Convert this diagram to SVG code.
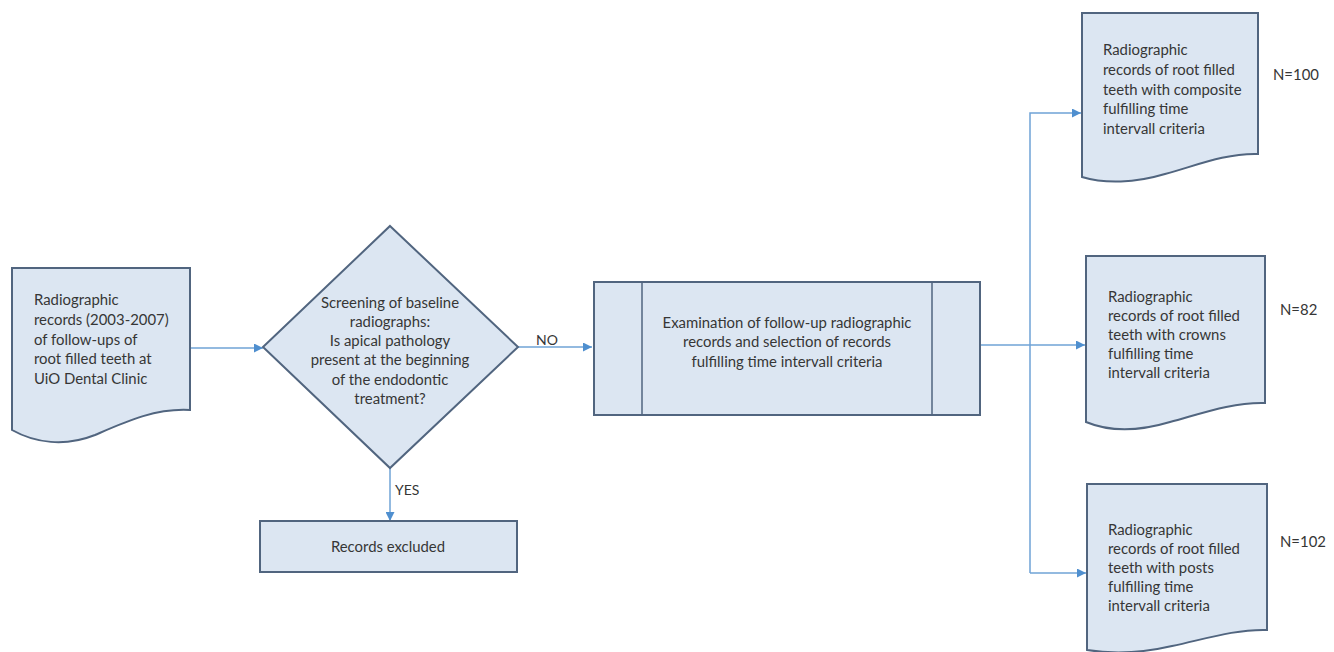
<svg xmlns="http://www.w3.org/2000/svg" width="1334" height="652" viewBox="0 0 1334 652">
<defs>
<marker id="ah" viewBox="0 0 10 10" refX="10" refY="5" markerWidth="10" markerHeight="9" markerUnits="userSpaceOnUse" orient="auto">
<path d="M0,0 L10,5 L0,10 Z" fill="#4f8fcf"/>
</marker>
<style>
.shape{fill:#dce6f2;stroke:#51657f;stroke-width:2}
.inner{fill:none;stroke:#51657f;stroke-width:1.5}
.t{font-family:Lato,"Open Sans","Liberation Sans",sans-serif;font-size:14.9px;fill:#363636}
.c{text-anchor:middle}
.conn{fill:none;stroke:#6fa3d6;stroke-width:1.5}
.lbl{font-family:Lato,"Open Sans","Liberation Sans",sans-serif;font-size:14px;fill:#363636}
</style>
</defs>
<rect width="1334" height="652" fill="#ffffff"/>

<g id="connectors">
<line class="conn" x1="190" y1="348" x2="263" y2="348" marker-end="url(#ah)"/>
<line class="conn" x1="518" y1="347" x2="592" y2="347" marker-end="url(#ah)"/>
<line class="conn" x1="390" y1="468" x2="390" y2="521" marker-end="url(#ah)"/>
<line class="conn" x1="980" y1="345" x2="1085" y2="345" marker-end="url(#ah)"/>
<polyline class="conn" points="1030,573 1030,113 1081,113" marker-end="url(#ah)"/>
<line class="conn" x1="1030" y1="573" x2="1086" y2="573" marker-end="url(#ah)"/>
<text class="lbl" x="536" y="345">NO</text>
<text class="lbl" x="395" y="495">YES</text>
</g>

<g id="source">
<path class="shape" d="M12,268 H190 V410 C155,408 125,422 95,435 C65,447 35,443 12,430 Z"/>
<text class="t" x="34" y="305">Radiographic</text>
<text class="t" x="34" y="325">records (2003-2007)</text>
<text class="t" x="34" y="345">of follow-ups of</text>
<text class="t" x="34" y="364">root filled teeth at</text>
<text class="t" x="34" y="384">UiO Dental Clinic</text>
</g>

<g id="screening">
<path class="shape" d="M390,226 L518,347 L390,468 L263,347 Z"/>
<text class="t c" x="390" y="308">Screening of baseline</text>
<text class="t c" x="390" y="327">radiographs:</text>
<text class="t c" x="390" y="346">Is apical pathology</text>
<text class="t c" x="390" y="365">present at the beginning</text>
<text class="t c" x="390" y="385">of the endodontic</text>
<text class="t c" x="390" y="404">treatment?</text>
</g>

<g id="examination">
<rect class="shape" x="594" y="282" width="386" height="133"/>
<line class="inner" x1="642" y1="282" x2="642" y2="415"/>
<line class="inner" x1="932" y1="282" x2="932" y2="415"/>
<text class="t c" x="787" y="328">Examination of follow-up radiographic</text>
<text class="t c" x="787" y="347">records and selection of records</text>
<text class="t c" x="787" y="367">fulfilling time intervall criteria</text>
</g>

<g id="excluded">
<rect class="shape" x="260" y="521" width="257" height="51"/>
<text class="t c" x="388" y="552">Records excluded</text>
</g>

<g id="composite">
<path class="shape" d="M1082,13 H1258 V154 C1225,153 1195,166 1165,174 C1135,183 1105,184 1082,177 Z"/>
<text class="t" x="1103" y="55">Radiographic</text>
<text class="t" x="1103" y="75">records of root filled</text>
<text class="t" x="1103" y="95">teeth with composite</text>
<text class="t" x="1103" y="114">fulfilling time</text>
<text class="t" x="1103" y="134">intervall criteria</text>
<text class="t" x="1273" y="80">N=100</text>
</g>

<g id="crowns">
<path class="shape" d="M1086,256 H1265 V403 C1232,402 1200,414 1170,422 C1140,431 1110,432 1086,422 Z"/>
<text class="t" x="1108" y="302">Radiographic</text>
<text class="t" x="1108" y="321">records of root filled</text>
<text class="t" x="1108" y="340">teeth with crowns</text>
<text class="t" x="1108" y="359">fulfilling time</text>
<text class="t" x="1108" y="378">intervall criteria</text>
<text class="t" x="1280" y="315">N=82</text>
</g>

<g id="posts">
<path class="shape" d="M1087,484 H1267 V630 C1234,629 1202,640 1172,646 C1142,653 1112,654 1087,650 Z"/>
<text class="t" x="1108" y="535">Radiographic</text>
<text class="t" x="1108" y="554">records of root filled</text>
<text class="t" x="1108" y="573">teeth with posts</text>
<text class="t" x="1108" y="592">fulfilling time</text>
<text class="t" x="1108" y="611">intervall criteria</text>
<text class="t" x="1280" y="547">N=102</text>
</g>
</svg>
